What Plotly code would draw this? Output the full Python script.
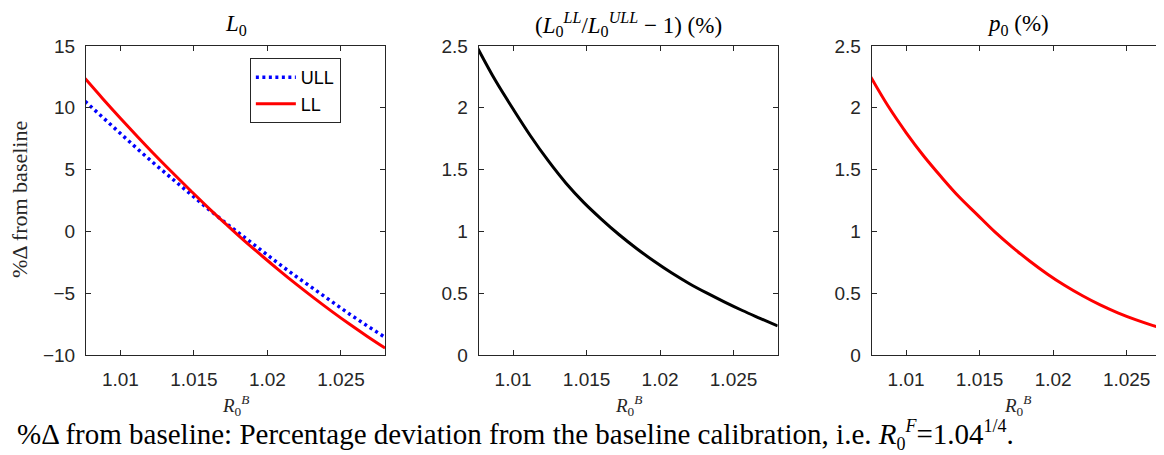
"""
Three-panel comparison of ULL and LL calibrations against R0^B.
"""

import plotly.graph_objects as go
from plotly.subplots import make_subplots

# Values
r0b = [1.0076, 1.0088, 1.0100, 1.0112, 1.0124, 1.0136, 1.0148, 1.0160, 1.0172,
       1.0184, 1.0196, 1.0208, 1.0220, 1.0232, 1.0244, 1.0256, 1.0268, 1.0280]

l0_ull = [10.52, 9.20, 7.91, 6.63, 5.38, 4.16, 2.97, 1.79, 0.65,
          -0.46, -1.56, -2.64, -3.69, -4.72, -5.72, -6.70, -7.65, -8.57]
l0_ll = [12.37, 10.74, 9.16, 7.62, 6.12, 4.68, 3.27, 1.89, 0.57,
         -0.72, -1.95, -3.15, -4.31, -5.42, -6.49, -7.52, -8.50, -9.44]

l0_ratio = [2.48, 2.22, 1.99, 1.77, 1.57, 1.39, 1.235, 1.10, 0.975,
            0.862, 0.758, 0.663, 0.577, 0.500, 0.428, 0.360, 0.297, 0.235]

p0 = [2.25, 2.01, 1.80, 1.61, 1.44, 1.28, 1.14, 1.00, 0.875,
      0.761, 0.656, 0.562, 0.479, 0.405, 0.341, 0.286, 0.238, 0.197]

x_ticks = [1.01, 1.015, 1.02, 1.025]
x_tick_labels = ['1.01', '1.015', '1.02', '1.025']
y1_ticks = [-10, -5, 0, 5, 10, 15]
y23_ticks = [0, 0.5, 1, 1.5, 2, 2.5]
y23_tick_labels = ['0', '0.5', '1', '1.5', '2', '2.5']

SANS = 'Liberation Sans, Arial, sans-serif'
SERIF = 'Liberation Serif, Times New Roman, serif'
AXIS_COLOR = '#262626'

# Page body adds 8 px, so the plot area lands at x 86..1164, y 46..355
DOMAINS = [[0.0, 0.2774], [0.3643, 0.6416], [0.7288, 1.0]]
X_RANGES = [[1.00766, 1.0280], [1.00766, 1.0280], [1.00766, 1.02754]]

fig = make_subplots(rows=1, cols=3)

fig.add_trace(go.Scatter(x=r0b, y=l0_ull, mode='lines', name='ULL',
                         line=dict(color='#0000ff', width=3.5, dash='3px,3.5px')),
              row=1, col=1)
fig.add_trace(go.Scatter(x=r0b, y=l0_ll, mode='lines', name='LL',
                         line=dict(color='#ff0000', width=3, shape='spline')),
              row=1, col=1)
fig.add_trace(go.Scatter(x=r0b, y=l0_ratio, mode='lines', showlegend=False,
                         line=dict(color='#000000', width=3, shape='spline')),
              row=1, col=2)
fig.add_trace(go.Scatter(x=r0b, y=p0, mode='lines', showlegend=False,
                         line=dict(color='#ff0000', width=3, shape='spline')),
              row=1, col=3)

for i in range(3):
    fig.update_xaxes(
        domain=DOMAINS[i], range=X_RANGES[i],
        tickvals=x_ticks, ticktext=x_tick_labels,
        ticks='inside', ticklen=5, tickcolor=AXIS_COLOR,
        showline=True, linecolor=AXIS_COLOR, linewidth=1, mirror='ticks',
        showgrid=False, zeroline=False, ticklabelstandoff=7,
        tickfont=dict(family=SANS, size=19, color='#262626'),
        row=1, col=i + 1,
    )

fig.update_yaxes(range=[-10, 15], tickvals=y1_ticks, row=1, col=1)
fig.update_yaxes(range=[0, 2.5], tickvals=y23_ticks, ticktext=y23_tick_labels, row=1, col=2)
fig.update_yaxes(range=[0, 2.5], tickvals=y23_ticks, ticktext=y23_tick_labels, row=1, col=3)
for i in range(3):
    fig.update_yaxes(
        ticks='inside', ticklen=5, tickcolor=AXIS_COLOR,
        showline=True, linecolor=AXIS_COLOR, linewidth=1,
        mirror='ticks' if i < 2 else False,
        showgrid=False, zeroline=False, ticklabelstandoff=6,
        tickfont=dict(family=SANS, size=19, color='#262626'),
        row=1, col=i + 1,
    )

titles = [
    '<i>L</i><sub>0</sub>',
    '(<i>L</i><sub>0</sub><sup><i>LL</i></sup>/<i>L</i><sub>0</sub><sup><i>ULL</i></sup> \u2212 1) (%)',
    '<i>p</i><sub>0</sub> (%)',
]
annotations = []
for dom, text in zip(DOMAINS, titles):
    centre = (dom[0] + dom[1]) / 2
    annotations.append(dict(text=text, x=centre, y=1.068, xref='paper', yref='paper',
                            xanchor='center', yanchor='middle', showarrow=False,
                            font=dict(family=SERIF, size=23, color='#000000')))
    annotations.append(dict(text='<i>R</i><sub>0</sub><sup><i>B</i></sup>', x=centre, y=-0.165,
                            xref='paper', yref='paper', xanchor='center', yanchor='middle',
                            showarrow=False,
                            font=dict(family=SERIF, size=19, color='#262626')))

annotations.append(dict(text='%\u0394 from baseline', x=-0.0612, y=0.502, xref='paper', yref='paper',
                        textangle=-90, xanchor='center', yanchor='middle', showarrow=False,
                        font=dict(family=SERIF, size=22, color='#262626')))

small = '<span style="font-size:18px">{}</span>'
annotations.append(dict(
    text='%\u0394 from baseline: Percentage deviation from the baseline calibration, '
         'i.e. <i>R</i><sub>' + small.format('0') + '</sub><sup>' + small.format('<i>F</i>')
         + '</sup>=1.04<sup>' + small.format('1/4') + '</sup>.',
    x=-0.0659, y=-0.26, xref='paper', yref='paper', xanchor='left', yanchor='middle',
    showarrow=False, font=dict(family=SERIF, size=29, color='#000000')))

fig.update_layout(
    width=1156, height=447,
    margin=dict(l=78, r=0, t=38, b=100),
    paper_bgcolor='white', plot_bgcolor='white',
    annotations=annotations,
    legend=dict(x=0.152, y=0.961, xanchor='left', yanchor='top',
                bgcolor='white', bordercolor=AXIS_COLOR, borderwidth=1,
                font=dict(family=SANS, size=18, color='#000000'),
                tracegroupgap=0, itemwidth=40),
    showlegend=True,
)

fig.write_html("out.html")
